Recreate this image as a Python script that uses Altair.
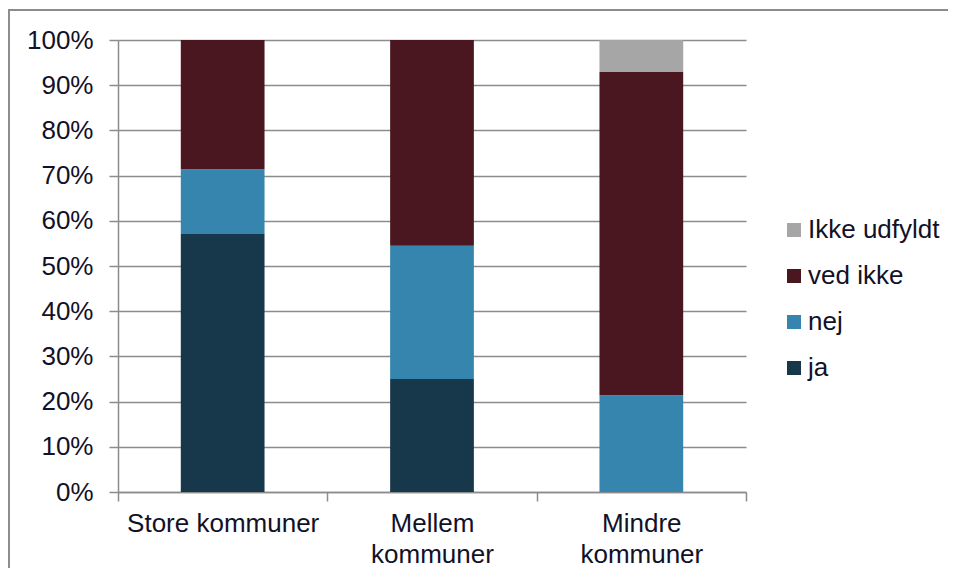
import altair as alt
import pandas as pd

categories = ["Store kommuner", "Mellem kommuner", "Mindre kommuner"]
series = ["ja", "nej", "ved ikke", "Ikke udfyldt"]
ja = [57.1, 25.0, 0.0]
nej = [14.3, 29.5, 21.4]
ved_ikke = [28.6, 45.5, 71.5]
ikke_udfyldt = [0.0, 0.0, 7.1]
colors = ["#17374A", "#3685AE", "#4A161F", "#A6A6A6"]

rows = []
for i, c in enumerate(categories):
    for j, (s, vals) in enumerate(zip(series, [ja, nej, ved_ikke, ikke_udfyldt])):
        rows.append({"kategori": c, "svar": s, "andel": vals[i] / 100.0, "orden": j})
df = pd.DataFrame(rows)

font = "Liberation Sans"
txt = "#111128"
grid = "#8C8C8C"

bars = alt.Chart(df).mark_bar(width=alt.RelativeBandSize(0.4)).encode(
    x=alt.X("kategori:N", sort=categories, title=None,
            scale=alt.Scale(paddingInner=0, paddingOuter=0),
            axis=alt.Axis(labelAngle=0, tickBand="extent", labelFont=font, labelFontSize=26,
                          labelColor=txt, labelPadding=9, labelLineHeight=31, labelLimit=400,
                          labelExpr="isString(datum.value) ? (datum.value == 'Store kommuner' ? datum.value : split(datum.value, ' ')) : ''",
                          domainColor=grid, domainWidth=1.5, tickColor=grid, tickWidth=1.5,
                          tickSize=9, grid=False)),
    y=alt.Y("andel:Q", stack="zero", title=None,
            scale=alt.Scale(domain=[0, 1], nice=False),
            axis=alt.Axis(format=".0%", values=[i / 10 for i in range(11)], labelFont=font,
                          labelFontSize=26, labelColor=txt, labelPadding=16,
                          domainColor=grid, domainWidth=1.5, tickColor=grid, tickWidth=1.5,
                          tickSize=9, gridColor=grid, gridWidth=1.5)),
    color=alt.Color("svar:N", scale=alt.Scale(domain=series, range=colors),
                    sort=list(reversed(series)),
                    legend=alt.Legend(title=None, orient="none", legendX=663, legendY=177,
                                      symbolType="square", symbolSize=196, symbolStrokeWidth=0,
                                      symbolOpacity=1, labelFont=font, labelFontSize=26,
                                      labelColor=txt, rowPadding=20, labelOffset=1,
                                      labelLimit=300,
                                      values=list(reversed(series)))),
    order=alt.Order("orden:Q", sort="ascending"),
)

border_left = alt.Chart(df).mark_rule(color="#8C8C8C", strokeWidth=1.5).encode(
    x=alt.value(-109.5), y=alt.value(-30), y2=alt.value(600))
border_top = alt.Chart(df).mark_rule(color="#8C8C8C", strokeWidth=1.5).encode(
    x=alt.value(-109.5), x2=alt.value(900), y=alt.value(-30))

chart = alt.layer(bars, border_left, border_top).properties(
    width=628, height=452,
    autosize=alt.AutoSizeParams(type="none"),
    padding={"left": 110, "top": 32, "right": 202, "bottom": 76},
).configure_view(stroke=None)

chart.save("out.html", embed_options={"renderer": "svg", "actions": False})
